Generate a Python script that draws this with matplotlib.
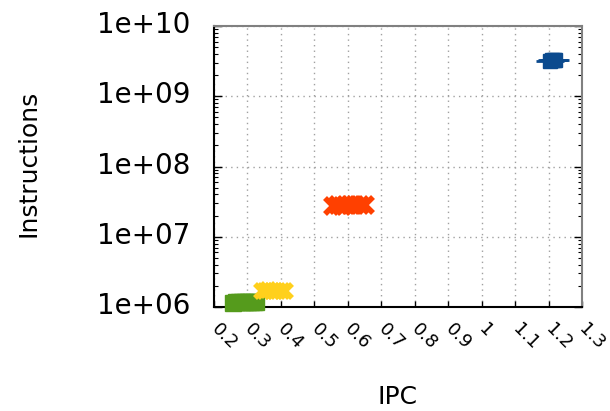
import matplotlib
matplotlib.use("Agg")
import matplotlib.pyplot as plt
import matplotlib.transforms as mtransforms
from matplotlib.ticker import LogLocator, NullFormatter

# IPC / instruction counts
green_ipc = [0.258, 0.266, 0.275, 0.284, 0.293, 0.302, 0.311, 0.319, 0.327]
green_ins = [1.15e6, 1.16e6, 1.17e6, 1.16e6, 1.17e6, 1.18e6, 1.16e6, 1.17e6, 1.16e6]
yellow_ipc = [0.342, 0.352, 0.362, 0.372, 0.382, 0.392, 0.402, 0.411]
yellow_ins = [1.68e6, 1.70e6, 1.72e6, 1.70e6, 1.71e6, 1.69e6, 1.70e6, 1.71e6]
orange_ipc = [0.557, 0.570, 0.583, 0.596, 0.609, 0.622, 0.636, 0.650]
orange_ins = [2.75e7, 2.8e7, 2.78e7, 2.82e7, 2.8e7, 2.79e7, 2.81e7, 2.8e7]
blue_ipc = [1.205, 1.210, 1.215, 1.220]
blue_ins = [3.2e9, 3.3e9, 3.25e9, 3.3e9]

xticks = [0.2, 0.3, 0.4, 0.5, 0.6, 0.7, 0.8, 0.9, 1.0, 1.1, 1.2, 1.3]
xticklabels = ["0.2", "0.3", "0.4", "0.5", "0.6", "0.7", "0.8", "0.9", "1", "1.1", "1.2", "1.3"]
yticks = [1e6, 1e7, 1e8, 1e9, 1e10]
yticklabels = ["1e+06", "1e+07", "1e+08", "1e+09", "1e+10"]

fig = plt.figure(figsize=(6.1, 4.11), dpi=100)
ax = fig.add_axes([214 / 610, 1 - 307 / 411, (582 - 214) / 610, (307 - 26) / 411])

ax.set_yscale("log")
ax.set_xlim(0.2, 1.3)
ax.set_ylim(1e6, 1e10)

# point clouds
ax.plot(green_ipc, green_ins, ls="none", marker="s", ms=12, color="#559b1c", clip_on=False, zorder=3)
ax.plot(yellow_ipc, yellow_ins, ls="none", marker="x", ms=10, mew=4, color="#ffd01c", clip_on=False, zorder=3)
ax.plot(orange_ipc, orange_ins, ls="none", marker="x", ms=11, mew=4, color="#ff4000", clip_on=False, zorder=3)
ax.plot(blue_ipc, blue_ins, ls="none", marker="s", ms=10, color="#0b4a8e", clip_on=False, zorder=3)
ax.plot(blue_ipc, blue_ins, ls="none", marker="_", ms=20, mew=2, color="#0b4a8e", clip_on=False, zorder=3)

# grid
ax.set_xticks(xticks)
ax.set_xticklabels(xticklabels)
ax.set_yticks(yticks)
ax.set_yticklabels(yticklabels)
ax.yaxis.set_minor_locator(LogLocator(base=10, subs=range(2, 10)))
ax.yaxis.set_minor_formatter(NullFormatter())
ax.grid(True, which="major", color="#a0a0a0", ls=(0, (1, 3)), lw=1)

ax.tick_params(axis="y", which="major", direction="in", length=6, width=1, right=True,
               labelsize=20, pad=17)
ax.tick_params(axis="y", which="minor", direction="in", length=3, width=0.8, right=True)
ax.tick_params(axis="x", which="major", direction="in", length=4, width=1, labelsize=13, pad=14)

for lab in ax.get_xticklabels():
    lab.set_rotation(-45)
    lab.set_rotation_mode("anchor")
    lab.set_ha("left")
    lab.set_va("center")

shift = mtransforms.ScaledTranslation(0, 4 / 100, fig.dpi_scale_trans)
for lab in ax.get_yticklabels():
    lab.set_transform(lab.get_transform() + shift)

for side in ["left", "bottom"]:
    ax.spines[side].set_color("black")
    ax.spines[side].set_linewidth(1.5)
for side in ["top", "right"]:
    ax.spines[side].set_color("#808080")
    ax.spines[side].set_linewidth(1.5)

fig.text(398 / 610, 1 - 397 / 411, "IPC", fontsize=18, ha="center", va="center")
fig.text(29 / 610, 1 - 163 / 411, "Instructions", fontsize=18, ha="center", va="center", rotation=90)

fig.savefig("out.png", dpi=100)
